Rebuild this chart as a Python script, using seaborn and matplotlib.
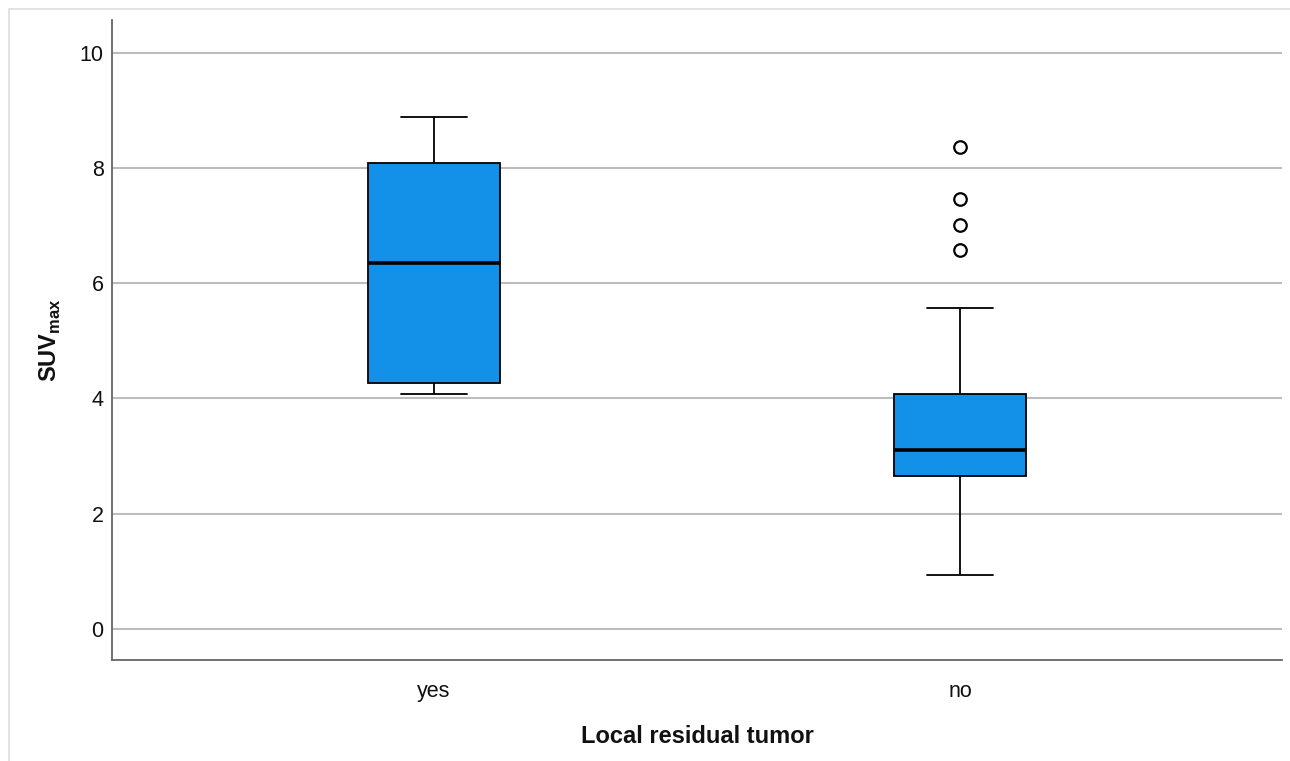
import matplotlib
matplotlib.use("Agg")
import matplotlib.pyplot as plt
import seaborn as sns
import pandas as pd
from matplotlib.patches import Rectangle

# Values (each group's points chosen so the box statistics match)
categories = ["yes", "no"]
yes_values = [4.07, 4.26, 6.35, 8.08, 8.88]
no_values = [0.93, 1.60, 2.10, 2.40, 2.55, 2.66, 2.80, 2.90, 3.00, 3.05,
             3.11, 3.30, 3.55, 3.80, 3.95, 4.08, 5.57, 6.57, 7.01, 7.47, 8.37]
y_ticks = [0, 2, 4, 6, 8, 10]

df = pd.DataFrame({
    "group": ["yes"] * len(yes_values) + ["no"] * len(no_values),
    "SUVmax": yes_values + no_values,
})

sns.set_theme(style="white")
plt.rcParams["font.family"] = ["Liberation Sans", "DejaVu Sans"]
plt.rcParams["mathtext.fontset"] = "custom"
plt.rcParams["mathtext.rm"] = "Liberation Sans"
plt.rcParams["mathtext.bf"] = "Liberation Sans:bold"

fig = plt.figure(figsize=(12.9, 7.61), dpi=100)
ax = fig.add_axes([112 / 1290, 1 - 660 / 761, 1170 / 1290, 640 / 761])

fig.patches.append(Rectangle((9 / 1290, -0.01), 1.02, 1 - 9 / 761 + 0.01,
                             transform=fig.transFigure, fill=False,
                             edgecolor="#dddddd", linewidth=1.2))

for t in y_ticks:
    ax.axhline(t, color="#bdbdbd", linewidth=1.5, zorder=0)

sns.boxplot(data=df, x="group", y="SUVmax", order=categories, ax=ax,
            width=0.25, color="#1390e8", saturation=1, whis=1.5,
            linecolor="black", linewidth=1.3,
            medianprops=dict(color="black", linewidth=2.6),
            flierprops=dict(marker="o", markersize=9, markerfacecolor="white",
                            markeredgecolor="black", markeredgewidth=1.6),
            zorder=2)

ax.set_xlim(-0.612, 1.612)
ax.set_ylim(-0.54, 10.57)
ax.set_yticks(y_ticks)
ax.set_yticklabels([str(t) for t in y_ticks])
ax.tick_params(axis="both", length=0, labelsize=15.5, colors="#111111")
ax.tick_params(axis="y", pad=6)
ax.tick_params(axis="x", pad=15)

for s in ["top", "right"]:
    ax.spines[s].set_visible(False)
for s in ["left", "bottom"]:
    ax.spines[s].set_color("#666666")
    ax.spines[s].set_linewidth(1.3)

ax.set_xlabel("Local residual tumor", fontsize=17, fontweight="bold", labelpad=17,
              color="#111111")
ax.set_ylabel(r"SUV$_{\mathbf{max}}$", fontsize=17, fontweight="bold", labelpad=12,
              color="#111111")

fig.savefig("out.png", dpi=100, facecolor="white")
